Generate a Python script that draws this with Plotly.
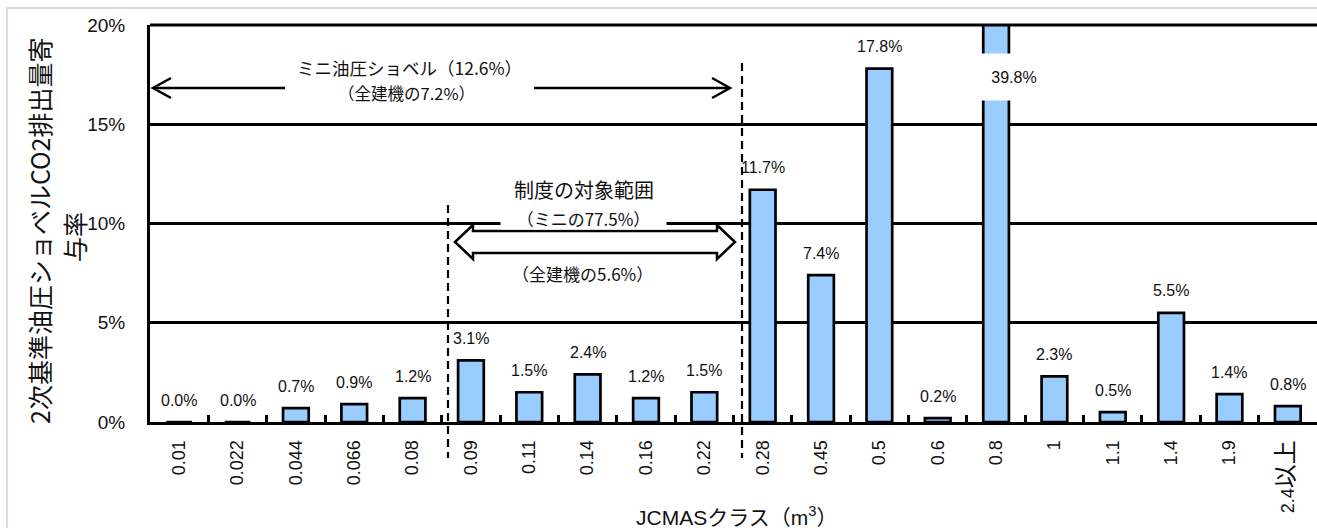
import plotly.graph_objects as go

# ---------------- data ----------------
classes = ["0.01", "0.022", "0.044", "0.066", "0.08", "0.09", "0.11", "0.14", "0.16", "0.22",
           "0.28", "0.45", "0.5", "0.6", "0.8", "1", "1.1", "1.4", "1.9", "2.4以上"]
shares = [0.0, 0.0, 0.7, 0.9, 1.2, 3.1, 1.5, 2.4, 1.2, 1.5,
          11.7, 7.4, 17.8, 0.2, 39.8, 2.3, 0.5, 5.5, 1.4, 0.8]
y_ticks = [0, 5, 10, 15, 20]
y_tick_labels = ["0%", "5%", "10%", "15%", "20%"]
y_title_lines = ["2次基準油圧ショベルCO2排出量寄", "与率"]
x_title = "JCMASクラス（m<sup>3</sup>）"
mini_texts = ["ミニ油圧ショベル（12.6%）", "（全建機の7.2%）"]
scope_texts = ["制度の対象範囲", "（ミニの77.5%）", "（全建機の5.6%）"]

# ---------------- layout geometry ----------------
W, H = 1317, 528
L, R, T, B = 150, 0, 25, 106
PW = W - L - R
PH = H - T - B
YMAX = 20


def px(x):
    return (x - L) / PW


def py(y):
    return (H - B - y) / PH


LAT = "Liberation Sans, Arial, Noto Sans CJK JP"
JP = "Noto Sans CJK JP, Liberation Sans"

# tick texts: CJK part drawn a little larger, as in the original
tick_texts = []
for c in classes:
    if "以上" in c:
        tick_texts.append(c.replace("以上", "<span style='font-size:24px'>以上</span>"))
    else:
        tick_texts.append(c)

fig = go.Figure()
fig.add_trace(go.Bar(
    x=classes, y=shares, width=0.44,
    marker=dict(color="#99CCFF", line=dict(color="black", width=2.7)),
    hoverinfo="x+y",
))

annotations = []
# data labels (x given as category index)
for i, v in enumerate(shares):
    if v > YMAX:
        annotations.append(dict(x=i, y=YMAX - 2.6, xref="x", yref="y", text=f"{v:.1f}%",
                                showarrow=False, xanchor="center", yanchor="middle",
                                xshift=18, width=66, height=44,
                                bgcolor="white", font=dict(family=LAT, size=16, color="#111")))
    else:
        annotations.append(dict(x=i, y=v, xref="x", yref="y", text=f"{v:.1f}%",
                                showarrow=False, xanchor="center", yanchor="middle", yshift=22,
                                font=dict(family=LAT, size=16, color="#111")))


def note(xp, yp, text, size, fam=JP, **kw):
    d = dict(x=px(xp), y=py(yp), xref="paper", yref="paper", text=text, showarrow=False,
             xanchor="center", yanchor="middle", font=dict(family=fam, size=size, color="#111"))
    d.update(kw)
    annotations.append(d)


# y-axis title (two lines)
note(39, 231, y_title_lines[0], 25, textangle=-90)
note(74, 237, y_title_lines[1], 25, textangle=-90)
# x-axis title
note(736, 516, x_title, 21, fam=LAT)
# mini excavator texts
note(409, 67, mini_texts[0], 17.5)
note(406, 93, mini_texts[1], 16.5)
# scope texts
note(584, 189, scope_texts[0], 20)
note(583, 218, scope_texts[1], 17, bgcolor="white", width=163, height=19)
note(582, 273, scope_texts[2], 17)

shapes = []
# light frame
shapes.append(dict(type="rect", xref="paper", yref="paper", x0=px(7), x1=px(1340), y0=py(8), y1=py(560),
                   line=dict(color="#d6dde6", width=2), layer="below"))
# top line (20%)
shapes.append(dict(type="line", xref="paper", yref="paper", x0=0, x1=1, y0=1, y1=1,
                   line=dict(color="black", width=3)))
# dashed separators
for xx, ytop in [(448, 205), (742, 63)]:
    shapes.append(dict(type="line", xref="paper", yref="paper", x0=px(xx), x1=px(xx), y0=py(ytop), y1=py(458),
                       line=dict(color="black", width=2.2, dash="8px,5px")))
# mini arrow (left and right parts)
ay = 88
for x0, x1 in [(153, 285), (534, 730)]:
    shapes.append(dict(type="line", xref="paper", yref="paper", x0=px(x0), x1=px(x1), y0=py(ay), y1=py(ay),
                       line=dict(color="black", width=2.5)))
for tip, back in [(153, 171), (730, 712)]:
    path = f"M {px(back)},{py(ay - 10)} L {px(tip)},{py(ay)} L {px(back)},{py(ay + 10)}"
    shapes.append(dict(type="path", xref="paper", yref="paper", path=path,
                       line=dict(color="black", width=2.5)))
# block double arrow
cy = 242
pts = [(455, cy), (473, cy - 17), (473, cy - 11), (717, cy - 11), (717, cy - 17), (735, cy),
       (717, cy + 17), (717, cy + 11), (473, cy + 11), (473, cy + 17)]
path = "M " + " L ".join(f"{px(a)},{py(b)}" for a, b in pts) + " Z"
shapes.append(dict(type="path", xref="paper", yref="paper", path=path, fillcolor="white",
                   line=dict(color="black", width=2.5)))

fig.update_layout(
    width=W, height=H,
    margin=dict(l=L, r=R, t=T, b=B, autoexpand=False),
    paper_bgcolor="white", plot_bgcolor="white",
    showlegend=False, bargap=0.56,
    font=dict(family=LAT, color="#111"),
    annotations=annotations, shapes=shapes,
    xaxis=dict(type="category", categoryorder="array", categoryarray=classes,
               tickmode="array", tickvals=classes, ticktext=tick_texts,
               range=[-0.5, len(classes) - 0.5],
               showline=True, linecolor="black", linewidth=3,
               ticks="inside", tickson="boundaries", ticklen=7, tickwidth=2.5, tickcolor="black",
               tickangle=-90, tickfont=dict(family=LAT, size=18, color="#111"),
               ticklabelstandoff=8, showgrid=False, zeroline=False),
    yaxis=dict(range=[0, YMAX], tickvals=y_ticks, ticktext=y_tick_labels,
               showline=True, linecolor="black", linewidth=3,
               showgrid=True, gridcolor="black", gridwidth=2.5, zeroline=False,
               ticks="", ticklabelstandoff=18,
               tickfont=dict(family=LAT, size=19, color="#111")),
)

fig.write_html("out.html")
